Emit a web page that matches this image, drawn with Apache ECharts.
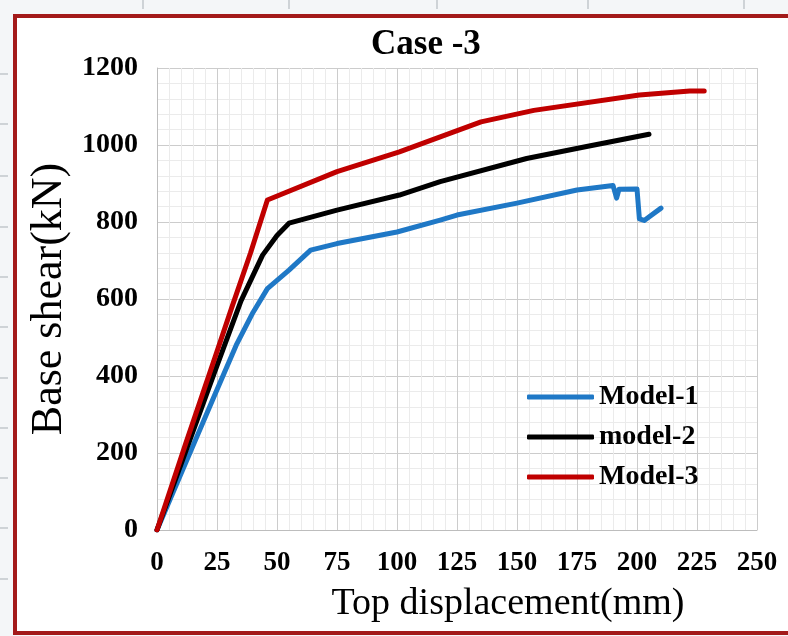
<!DOCTYPE html>
<html><head><meta charset="utf-8">
<script src="https://cdn.jsdelivr.net/npm/echarts@6/dist/echarts.min.js"></script>
<style>html,body{margin:0;padding:0;background:#f4f6f8}#c{width:788px;height:636px}</style>
</head><body><div id="c"></div>
<script>
const titleText = 'Case -3';
const xName = 'Top displacement(mm)';
const yName = 'Base shear(kN)';
const seriesNames = ['Model-1', 'model-2', 'Model-3'];
const seriesColors = ['#1f78c6', '#000000', '#c00000'];

const xMin = 0, xMax = 250, xStep = 25;
const yMin = 0, yMax = 1200, yStep = 200;

// Model-1 (blue)
const m1Disp  = [0, 12, 24, 33, 40, 46, 55, 64, 75, 100, 118, 125, 150, 175, 190, 191.5, 192.5, 200, 201, 203, 210];
const m1Shear = [0, 175, 350, 480, 565, 627, 675, 727, 744, 774, 805, 818, 849, 883, 895, 862, 885, 886, 808, 804, 836];
// model-2 (black)
const m2Disp  = [0, 12, 24, 35, 44, 50, 55, 75, 101, 118, 154, 179, 205];
const m2Shear = [0, 205, 410, 595, 714, 765, 797, 831, 870, 905, 965, 996, 1028];
// Model-3 (red)
const m3Disp  = [0, 12, 24, 31, 39, 46, 75, 101, 118, 135, 157, 201, 222, 228];
const m3Shear = [0, 225, 445, 575, 720, 857, 931, 982, 1021, 1060, 1090, 1130, 1140, 1140];

const zip = (a, b) => a.map((v, i) => [v, b[i]]);
const allData = [zip(m1Disp, m1Shear), zip(m2Disp, m2Shear), zip(m3Disp, m3Shear)];

const serif = 'Liberation Serif';
const chart = echarts.init(document.getElementById('c'), null, {renderer: 'canvas'});

const rulerLeft = [74, 124, 176, 227, 277, 327, 378, 428, 478, 528, 579];
const rulerTop = [143, 289, 437, 588, 744];
const graphics = [
  {type: 'rect', z: -10, silent: true, shape: {x: 15, y: 16, width: 790, height: 617},
   style: {fill: '#ffffff', stroke: '#a31a1a', lineWidth: 4}}
];
rulerLeft.forEach(y => graphics.push({type: 'line', z: -10, silent: true, shape: {x1: 0, y1: y, x2: 8, y2: y}, style: {stroke: '#a9b0b6', lineWidth: 1}}));
rulerTop.forEach(x => graphics.push({type: 'line', z: -10, silent: true, shape: {x1: x, y1: 0, x2: x, y2: 9}, style: {stroke: '#a9b0b6', lineWidth: 1}}));

chart.setOption({
  animation: false,
  backgroundColor: '#f4f6f8',
  graphic: graphics,
  title: {
    text: titleText, left: 366, top: 22,
    textStyle: {fontFamily: serif, fontWeight: 'bold', fontSize: 35, color: '#000'}
  },
  legend: {
    data: seriesNames, orient: 'vertical', left: 522, top: 378,
    icon: 'roundRect', itemWidth: 67, itemHeight: 5, itemGap: 12,
    textStyle: {fontFamily: serif, fontWeight: 'bold', fontSize: 28, color: '#000'}
  },
  grid: {left: 157, right: 31, top: 68, bottom: 106},
  xAxis: {
    type: 'value', min: xMin, max: xMax, interval: xStep,
    name: xName, nameLocation: 'middle', nameGap: 55,
    nameTextStyle: {fontFamily: serif, fontSize: 38, color: '#000', padding: [0, 0, 0, 102]},
    axisLine: {show: true, lineStyle: {color: '#bdbdbd', width: 1}},
    axisTick: {show: false},
    axisLabel: {margin: 20, fontFamily: serif, fontWeight: 'bold', fontSize: 27, color: '#000',
      formatter: v => String(v)},
    splitLine: {show: true, lineStyle: {color: '#cccccc', width: 1}},
    minorTick: {show: false, splitNumber: 5},
    minorSplitLine: {show: true, lineStyle: {color: '#ebebeb', width: 1}}
  },
  yAxis: {
    type: 'value', min: yMin, max: yMax, interval: yStep,
    name: yName, nameLocation: 'middle', nameGap: 58,
    nameTextStyle: {fontFamily: serif, fontSize: 44, color: '#000'},
    axisLine: {show: true, lineStyle: {color: '#bdbdbd', width: 1}},
    axisTick: {show: false},
    axisLabel: {margin: 19, fontFamily: serif, fontWeight: 'bold', fontSize: 28, color: '#000',
      formatter: v => String(v)},
    splitLine: {show: true, lineStyle: {color: '#cccccc', width: 1}},
    minorTick: {show: false, splitNumber: 5},
    minorSplitLine: {show: true, lineStyle: {color: '#ebebeb', width: 1}}
  },
  series: seriesNames.map((n, i) => ({
    name: n, type: 'line', data: allData[i], symbol: 'none', smooth: false,
    lineStyle: {color: seriesColors[i], width: 5, cap: 'round', join: 'round'},
    itemStyle: {color: seriesColors[i]}
  }))
});
</script></body></html>
